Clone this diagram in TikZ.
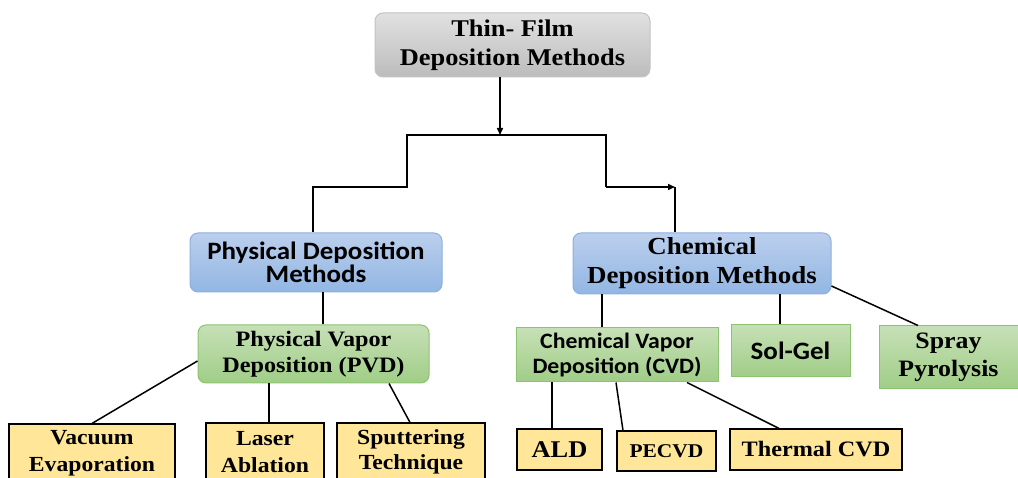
\documentclass[tikz,border=0pt]{standalone}
\usepackage{fontspec}
\setmainfont[FakeStretch=1.1]{Liberation Serif}
\newfontfamily\calfont[FakeStretch=1.08]{Carlito}
\usetikzlibrary{arrows.meta}
\definecolor{graytop}{RGB}{225,225,225}
\definecolor{graybot}{RGB}{188,188,188}
\definecolor{grayline}{RGB}{195,195,195}
\definecolor{bluetop}{RGB}{187,207,237}
\definecolor{bluebot}{RGB}{146,182,227}
\definecolor{blueline}{RGB}{140,175,225}
\definecolor{greentop}{RGB}{198,224,182}
\definecolor{greenbot}{RGB}{160,205,135}
\definecolor{greenline}{RGB}{140,195,110}
\definecolor{yellowfill}{RGB}{255,230,153}
\tikzset{
  box/.style={inner sep=0pt, align=center, font=\bfseries},
  graybox/.style={box, rounded corners=8pt, draw=grayline, line width=1pt, top color=graytop, bottom color=graybot},
  bluebox/.style={box, rounded corners=8pt, draw=blueline, line width=1pt, top color=bluetop, bottom color=bluebot},
  greenround/.style={box, rounded corners=8pt, draw=greenline, line width=1pt, top color=greentop, bottom color=greenbot},
  greenbox/.style={box, draw=greenline, line width=1pt, top color=greentop, bottom color=greenbot},
  yellowbox/.style={box, draw=black, line width=1.1pt, fill=yellowfill},
  conn/.style={draw=black, line width=1.5pt},
  tip/.style={-{Triangle[length=7pt,width=6pt]}}
}
\begin{document}
\begin{tikzpicture}[x=1pt,y=-1pt]
\useasboundingbox (0,0) rectangle (1018,478);
\clip (0,0) rectangle (1018,478);

% nodes
\node[graybox, minimum width=275pt, minimum height=64pt, font=\bfseries\fontsize{24}{29}\selectfont] (title) at (512.5,45) {Thin- Film\\Deposition Methods};

\node[bluebox, minimum width=252pt, minimum height=59pt, font=\calfont\bfseries\fontsize{25}{23.5}\selectfont] (phys) at (316,262.5) {Physical Deposition\\Methods};
\node[bluebox, minimum width=258pt, minimum height=61pt, font=\bfseries\fontsize{24.5}{29}\selectfont] (chem) at (702,263.5) {Chemical\\Deposition Methods};

\node[greenround, minimum width=231pt, minimum height=58pt, font=\bfseries\fontsize{22}{26.5}\selectfont] (pvd) at (313.5,354) {Physical Vapor\\Deposition (PVD)};

\node[greenbox, minimum width=202pt, minimum height=54pt, font=\calfont\bfseries\fontsize{22}{25}\selectfont] (cvd) at (617,355) {Chemical Vapor\\Deposition (CVD)};
\node[greenbox, minimum width=119pt, minimum height=52pt, font=\calfont\bfseries\fontsize{25}{28}\selectfont] (solgel) at (790.5,351) {Sol-Gel};
\node[greenbox, minimum width=139pt, minimum height=63pt, font=\bfseries\fontsize{23.5}{28}\selectfont] (spray) at (948.5,357.5) {Spray\\Pyrolysis};

\node[yellowbox, minimum width=166pt, minimum height=58pt, font=\bfseries\fontsize{21.5}{26.5}\selectfont] (vac) at (92,453) {Vacuum\\Evaporation};
\node[yellowbox, minimum width=118pt, minimum height=58pt, font=\bfseries\fontsize{21.5}{26.5}\selectfont] (laser) at (265,452) {Laser\\Ablation};
\node[yellowbox, minimum width=148pt, minimum height=58pt, font=\bfseries\fontsize{21.5}{25.5}\selectfont] (sput) at (411,452) {Sputtering\\Technique};

\node[yellowbox, minimum width=85pt, minimum height=41pt, font=\bfseries\fontsize{24}{28}\selectfont] (ald) at (559.5,449.5) {ALD};
\node[yellowbox, minimum width=99pt, minimum height=40pt, font=\bfseries\fontsize{19.5}{24}\selectfont] (pecvd) at (666.5,451) {PECVD};
\node[yellowbox, minimum width=172pt, minimum height=41pt, font=\bfseries\fontsize{22}{26}\selectfont] (thermal) at (816,449.5) {Thermal CVD};

% top connectors
\coordinate (split) at (500,135);
\coordinate (jl) at (407,187);
\coordinate (jr) at (606,187);
\coordinate (ja) at (675,187);
\draw[conn, tip] ([xshift=-12.5pt]title.south) -- (split);
\draw[conn] ([xshift=-3pt]phys.north) |- (jl) |- (split) -| (jr);
\draw[conn, tip] (jr) -- (ja);
\draw[conn] (ja) -- (ja |- chem.north);

% physical branch
\draw[conn] ([xshift=7pt]phys.south) coordinate (p1) -- (p1 |- pvd.north);
\draw[conn] ([yshift=-7pt]pvd.west) -- (vac.north);
\draw[conn] ([xshift=-44.5pt]pvd.south) coordinate (p2) -- (p2 |- laser.north);
\draw[conn] ([xshift=75.5pt]pvd.south) -- ([xshift=-1pt]sput.north);

% chemical branch
\draw[conn] ([xshift=-100pt]chem.south) coordinate (c1) -- (c1 |- cvd.north);
\draw[conn] ([xshift=78pt]chem.south) coordinate (c2) -- (c2 |- solgel.north);
\draw[conn] ([yshift=-22.5pt]chem.east) -- ([xshift=-30.5pt]spray.north);
\draw[conn] ([xshift=-65pt]cvd.south) coordinate (c3) -- (c3 |- ald.north);
\draw[conn] ([xshift=-1pt]cvd.south) -- ([xshift=-43.5pt]pecvd.north);
\draw[conn] ([xshift=70pt]cvd.south) -- ([xshift=-37pt]thermal.north);
\end{tikzpicture}
\end{document}
